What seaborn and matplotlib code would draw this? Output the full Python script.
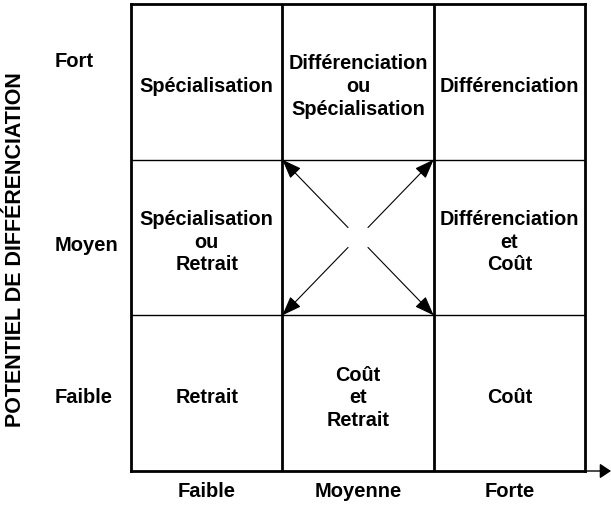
import numpy as np
import pandas as pd
import seaborn as sns
import matplotlib.pyplot as plt
from matplotlib.colors import ListedColormap

# ---- data ----
col_labels = ["Faible", "Moyenne", "Forte"]          # x categories (left -> right)
row_labels = ["Fort", "Moyen", "Faible"]             # y categories (top -> bottom)
row_tick_pos = [0.37, 1.55, 2.53]                    # label positions
cell_text = [
    ["Spécialisation", "Différenciation\nou\nSpécialisation", "Différenciation"],
    ["Spécialisation\nou\nRetrait", "", "Différenciation\net\nCoût"],
    ["Retrait", "Coût\net\nRetrait", "Coût"],
]
y_title = "POTENTIEL DE DIFFÉRENCIATION"

sns.set_theme(style="white")
plt.rcParams['font.family'] = ['Liberation Sans', 'DejaVu Sans']

fig = plt.figure(figsize=(6.11, 5.09), dpi=100)
ax = fig.add_axes([131/611, 1-471/509, 454/611, 467/509])

grid = pd.DataFrame(np.zeros((3, 3)), index=row_labels, columns=col_labels)
sns.heatmap(grid, ax=ax, cmap=ListedColormap(["white"]), cbar=False,
            linewidths=0, annot=False)

# cell texts
for r in range(3):
    for c in range(3):
        ax.text(c + 0.5, r + 0.53, cell_text[r][c], ha="center", va="center",
                fontsize=14.3, fontweight="bold", color="black", linespacing=1.25)

# grid lines
for x in [1, 2]:
    ax.axvline(x, color="black", lw=2)
for y in [1, 2]:
    ax.axhline(y, color="black", lw=1)
for s in ax.spines.values():
    s.set_visible(True)
    s.set_color("black")
    s.set_linewidth(2)

# arrows from centre cell to its corners
cx, cy = 1.5, 1.5
dx, dy = 0.066, 0.064
for (tx, ty) in [(1, 1), (2, 1), (1, 2), (2, 2)]:
    sx = cx + dx * np.sign(tx - cx)
    sy = cy + dy * np.sign(ty - cy)
    ax.annotate("", xy=(tx, ty), xytext=(sx, sy),
                arrowprops=dict(arrowstyle="-|>,head_length=0.8,head_width=0.3",
                                color="black", lw=0.8, shrinkA=0, shrinkB=0,
                                mutation_scale=15))

# x-axis arrow extension
ax.annotate("", xy=(3.172, 3), xytext=(3, 3), annotation_clip=False,
            arrowprops=dict(arrowstyle="-|>,head_length=0.45,head_width=0.3",
                            color="black", lw=1, shrinkA=0, shrinkB=0,
                            mutation_scale=15))

# ticks
ax.set_xticks([0.5, 1.5, 2.5])
ax.set_xticklabels(col_labels, fontsize=14.5, fontweight="bold", rotation=0)
ax.set_yticks(row_tick_pos)
ax.set_yticklabels(row_labels, fontsize=14.5, fontweight="bold", rotation=0, ha="left")
ax.tick_params(axis="x", length=0, pad=8, colors="black")
ax.tick_params(axis="y", length=0, pad=54.7, colors="black")

ax.set_xlabel("")
ax.set_ylabel(y_title, fontsize=15.5, fontweight="bold", color="black")
ax.yaxis.label.set_fontweight("bold")
ax.yaxis.label.set_va("center")
ax.yaxis.set_label_coords((16 - 131) / 454, 1 - (250 - 4) / 467)

fig.savefig("out.png", dpi=100)
